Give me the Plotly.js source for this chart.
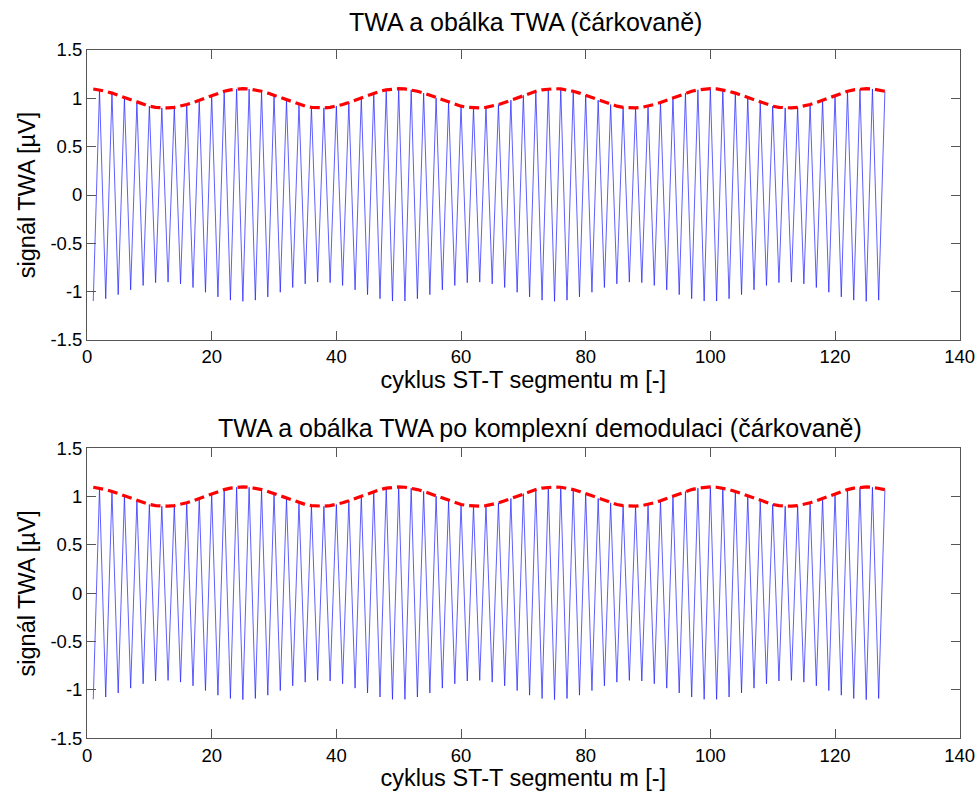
<!DOCTYPE html>
<html><head><meta charset="utf-8">
<script src="https://cdn.plot.ly/plotly-3.0.1.min.js"></script>
<style>html,body{margin:0;padding:0;background:#fff}</style>
</head><body><div id="chart" style="width:979px;height:793px"></div>
<script>
// cycle index m (ST-T segment number)
const cycles = [1,2,3,4,5,6,7,8,9,10,11,12,13,14,15,16,17,18,19,20,21,22,23,24,25,
26,27,28,29,30,31,32,33,34,35,36,37,38,39,40,41,42,43,44,45,46,47,48,49,50,
51,52,53,54,55,56,57,58,59,60,61,62,63,64,65,66,67,68,69,70,71,72,73,74,75,
76,77,78,79,80,81,82,83,84,85,86,87,88,89,90,91,92,93,94,95,96,97,98,99,100,
101,102,103,104,105,106,107,108,109,110,111,112,113,114,115,116,117,118,119,120,121,122,123,124,125,
126,127,128];

// TWA signal (alternating beat-to-beat), µV
const twaSignal = [
-1.097,1.088,-1.073,1.054,-1.031,1.006,-0.981,0.957,-0.936,0.919,-0.907,0.901,-0.901,0.907,-0.919,0.936,-0.957,0.981,-1.006,1.031,-1.054,1.073,-1.088,1.097,
-1.100,1.097,-1.088,1.073,-1.054,1.031,-1.006,0.981,-0.957,0.936,-0.919,0.907,-0.901,0.901,-0.907,0.919,-0.936,0.957,-0.981,1.006,-1.031,1.054,-1.073,1.088,-1.097,
1.100,-1.097,1.088,-1.073,1.054,-1.031,1.006,-0.981,0.957,-0.936,0.919,-0.907,0.901,-0.901,0.907,-0.919,0.936,-0.957,0.981,-1.006,1.031,-1.054,1.073,-1.088,1.097,
-1.100,1.097,-1.088,1.073,-1.054,1.031,-1.006,0.981,-0.957,0.936,-0.919,0.907,-0.901,0.901,-0.907,0.919,-0.936,0.957,-0.981,1.006,-1.031,1.054,-1.073,1.088,-1.097,
1.100,-1.097,1.088,-1.073,1.054,-1.031,1.006,-0.981,0.957,-0.936,0.919,-0.907,0.901,-0.901,0.907,-0.919,0.936,-0.957,0.981,-1.006,1.031,-1.054,1.073,-1.088,1.097,
-1.100,1.097,-1.088,1.073];

// TWA envelope (top panel)
const twaEnvelope = [
1.097,1.088,1.073,1.054,1.031,1.006,0.981,0.957,0.936,0.919,0.907,0.901,0.901,0.907,0.919,0.936,0.957,0.981,1.006,1.031,1.054,1.073,1.088,1.097,
1.100,1.097,1.088,1.073,1.054,1.031,1.006,0.981,0.957,0.936,0.919,0.907,0.901,0.901,0.907,0.919,0.936,0.957,0.981,1.006,1.031,1.054,1.073,1.088,1.097,
1.100,1.097,1.088,1.073,1.054,1.031,1.006,0.981,0.957,0.936,0.919,0.907,0.901,0.901,0.907,0.919,0.936,0.957,0.981,1.006,1.031,1.054,1.073,1.088,1.097,
1.100,1.097,1.088,1.073,1.054,1.031,1.006,0.981,0.957,0.936,0.919,0.907,0.901,0.901,0.907,0.919,0.936,0.957,0.981,1.006,1.031,1.054,1.073,1.088,1.097,
1.100,1.097,1.088,1.073,1.054,1.031,1.006,0.981,0.957,0.936,0.919,0.907,0.901,0.901,0.907,0.919,0.936,0.957,0.981,1.006,1.031,1.054,1.073,1.088,1.097,
1.100,1.097,1.088,1.073];

// envelope after complex demodulation (bottom panel)
const demodEnvelope = [
1.097,1.088,1.073,1.054,1.031,1.006,0.981,0.957,0.936,0.919,0.907,0.901,0.901,0.907,0.919,0.936,0.957,0.981,1.006,1.031,1.054,1.073,1.088,1.097,
1.100,1.097,1.088,1.073,1.054,1.031,1.006,0.981,0.957,0.936,0.919,0.907,0.901,0.901,0.907,0.919,0.936,0.957,0.981,1.006,1.031,1.054,1.073,1.088,1.097,
1.100,1.097,1.088,1.073,1.054,1.031,1.006,0.981,0.957,0.936,0.919,0.907,0.901,0.901,0.907,0.919,0.936,0.957,0.981,1.006,1.031,1.054,1.073,1.088,1.097,
1.100,1.097,1.088,1.073,1.054,1.031,1.006,0.981,0.957,0.936,0.919,0.907,0.901,0.901,0.907,0.919,0.936,0.957,0.981,1.006,1.031,1.054,1.073,1.088,1.097,
1.100,1.097,1.088,1.073,1.054,1.031,1.006,0.981,0.957,0.936,0.919,0.907,0.901,0.901,0.907,0.919,0.936,0.957,0.981,1.006,1.031,1.054,1.073,1.088,1.097,
1.100,1.097,1.088,1.073];

const xTickVals = [0,20,40,60,80,100,120,140];
const xTickText = ["0","20","40","60","80","100","120","140"];
const yTickVals = [-1.5,-1,-0.5,0,0.5,1,1.5];
const yTickText = ["-1.5","-1","-0.5","0","0.5","1","1.5"];

const titleTop = "TWA a obálka TWA (čárkovaně)";
const titleBottom = "TWA a obálka TWA po komplexní demodulaci (čárkovaně)";
const xLabel = "cyklus ST-T segmentu m [-]";
const yLabel = "signál TWA [µV]";

const FONT = "Liberation Sans, Arial, Helvetica, sans-serif";
const blueLine = {color: "#1a1aff", width: 0.7};
const redLine = {color: "#ff0000", width: 3.2, dash: "10px,5px"};

const traces = [
  {x: cycles, y: twaSignal, xaxis: "x", yaxis: "y", mode: "lines", line: blueLine, showlegend: false, hoverinfo: "skip"},
  {x: cycles, y: twaEnvelope, xaxis: "x", yaxis: "y", mode: "lines", line: redLine, showlegend: false, hoverinfo: "skip"},
  {x: cycles, y: twaSignal, xaxis: "x2", yaxis: "y2", mode: "lines", line: blueLine, showlegend: false, hoverinfo: "skip"},
  {x: cycles, y: demodEnvelope, xaxis: "x2", yaxis: "y2", mode: "lines", line: redLine, showlegend: false, hoverinfo: "skip"}
];

function xAxis(anchor) {
  return {
    anchor: anchor, domain: [0.0889, 0.9803], range: [0, 140],
    tickmode: "array", tickvals: xTickVals, ticktext: xTickText,
    ticks: "inside", ticklen: 9, tickwidth: 1, tickcolor: "#555",
    showline: true, linecolor: "#555", linewidth: 1, mirror: "ticks",
    showgrid: false, zeroline: false,
    tickfont: {family: FONT, size: 18.5, color: "#000"},
    title: {text: xLabel, font: {family: FONT, size: 23.5, color: "#000"}, standoff: 2}
  };
}
function yAxis(anchor, domain) {
  return {
    anchor: anchor, domain: domain, range: [-1.5, 1.5],
    tickmode: "array", tickvals: yTickVals, ticktext: yTickText,
    ticks: "inside", ticklen: 9, tickwidth: 1, tickcolor: "#555",
    showline: true, linecolor: "#555", linewidth: 1, mirror: "ticks",
    showgrid: false, zeroline: false,
    tickfont: {family: FONT, size: 18.5, color: "#000"},
    title: {text: yLabel, font: {family: FONT, size: 23.5, color: "#000"}, standoff: 8}
  };
}

const layout = {
  width: 979, height: 793,
  margin: {l: 0, r: 0, t: 0, b: 0},
  paper_bgcolor: "#fff", plot_bgcolor: "#fff",
  font: {family: FONT, color: "#000"},
  xaxis: xAxis("y"),
  yaxis: yAxis("x", [1 - 340/793, 1 - 50/793]),
  xaxis2: xAxis("y2"),
  yaxis2: yAxis("x2", [1 - 738.3/793, 1 - 448.3/793]),
  annotations: [
    {text: titleTop, xref: "paper", yref: "paper", x: 525.5/979, y: 1 - 22/793, xanchor: "center", yanchor: "middle", showarrow: false, font: {family: FONT, size: 25, color: "#000"}},
    {text: titleBottom, xref: "paper", yref: "paper", x: 539.5/979, y: 1 - 428/793, xanchor: "center", yanchor: "middle", showarrow: false, font: {family: FONT, size: 25, color: "#000"}}
  ]
};

Plotly.newPlot("chart", traces, layout, {staticPlot: true, displayModeBar: false});
</script></body></html>
